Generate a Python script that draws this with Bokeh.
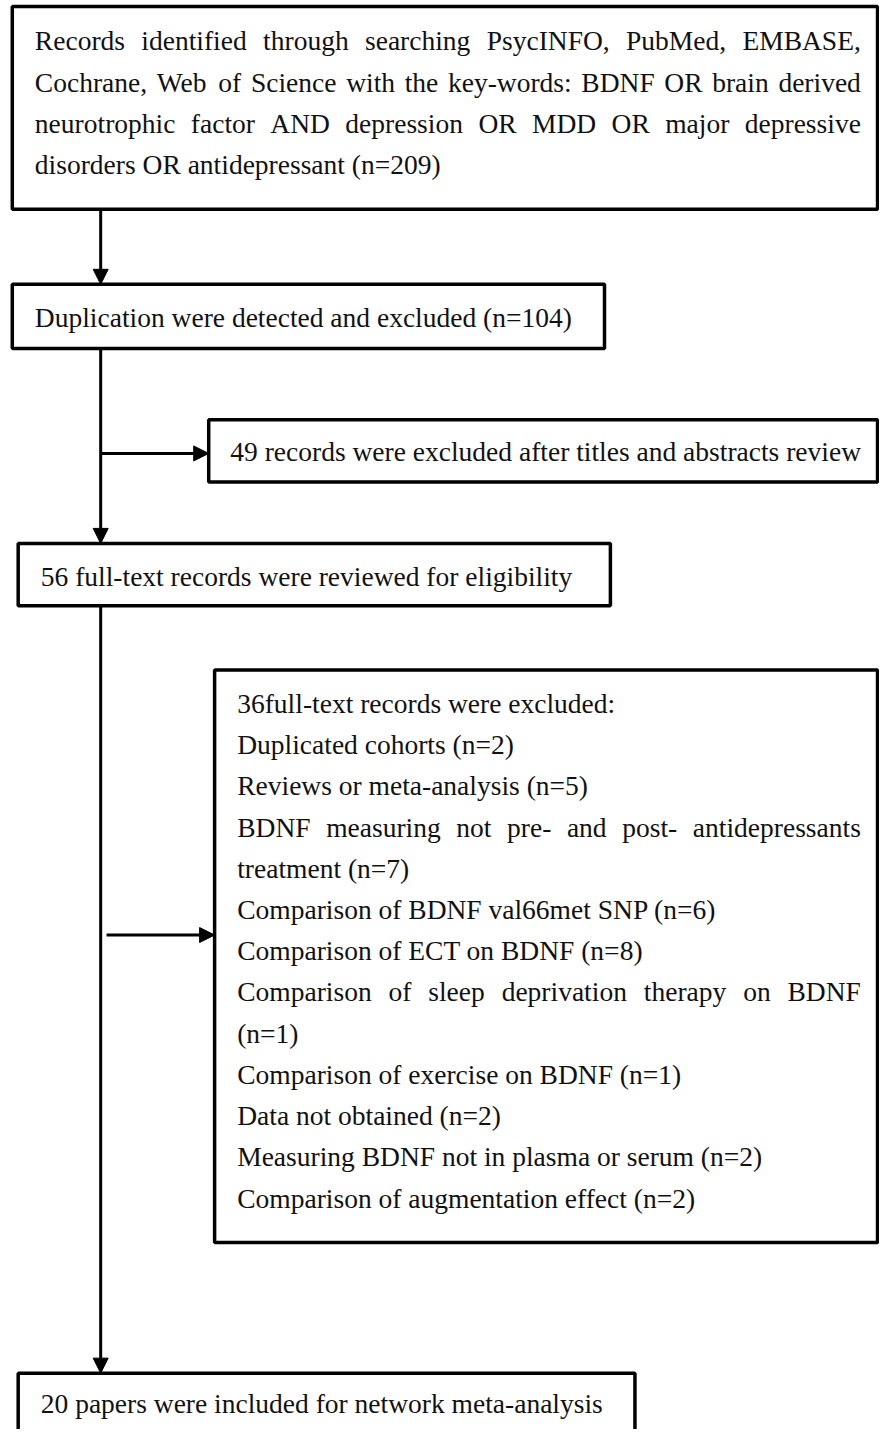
from bokeh.plotting import figure
from bokeh.models import Range1d, ColumnDataSource, Arrow, NormalHead
from bokeh.core.properties import value
from bokeh.embed import file_html
from bokeh.resources import INLINE

# ---------------- data (texts of the flow chart) ----------------
search_lines = [
    "Records identified through searching PsycINFO, PubMed, EMBASE,",
    "Cochrane, Web of Science with the key-words: BDNF OR brain derived",
    "neurotrophic factor AND depression OR MDD OR major depressive",
    "disorders OR antidepressant (n=209)",
]
search_justify = [True, True, True, False]
dup_text = "Duplication were detected and excluded (n=104)"
screen_excl_text = "49 records were excluded after titles and abstracts review"
fulltext_text = "56 full-text records were reviewed for eligibility"
fulltext_excl_lines = [
    "36full-text records were excluded:",
    "Duplicated cohorts (n=2)",
    "Reviews or meta-analysis (n=5)",
    "BDNF measuring not pre- and post- antidepressants",
    "treatment (n=7)",
    "Comparison of BDNF val66met SNP (n=6)",
    "Comparison of ECT on BDNF (n=8)",
    "Comparison of sleep deprivation therapy on BDNF",
    "(n=1)",
    "Comparison of exercise on BDNF (n=1)",
    "Data not obtained (n=2)",
    "Measuring BDNF not in plasma or serum (n=2)",
    "Comparison of augmentation effect (n=2)",
]
fulltext_excl_justify = [False, False, False, True, False, False, False, True,
                         False, False, False, False, False]
included_text = "20 papers were included for network meta-analysis"

# ---------------- layout ----------------
W_PX, H_PX = 879, 1429
X0, X1 = 0, 895
Y0, Y1 = 0, 1445
SX = W_PX / (X1 - X0)
SY = H_PX / (Y1 - Y0)
FS = 28.0                     # font size in data units
FONT = "Liberation Serif"
FONT_PX = f"{FS * SX:.2f}px"
LH = 41.67                    # line height
BASE_OFF = 9.0 / SY           # renderer places alphabetic baseline lower

# Times metrics (per 1000 em)
TM = {' ': 250, 'a': 444, 'b': 500, 'c': 444, 'd': 500, 'e': 444, 'f': 333, 'g': 500,
      'h': 500, 'i': 278, 'j': 278, 'k': 500, 'l': 278, 'm': 778, 'n': 500, 'o': 500,
      'p': 500, 'q': 500, 'r': 333, 's': 389, 't': 278, 'u': 500, 'v': 500, 'w': 722,
      'x': 500, 'y': 500, 'z': 444,
      'A': 722, 'B': 667, 'C': 667, 'D': 722, 'E': 611, 'F': 556, 'G': 722, 'H': 722,
      'I': 333, 'J': 389, 'K': 722, 'L': 611, 'M': 889, 'N': 722, 'O': 722, 'P': 556,
      'Q': 722, 'R': 667, 'S': 556, 'T': 611, 'U': 722, 'V': 722, 'W': 944, 'X': 722,
      'Y': 722, 'Z': 611, '(': 333, ')': 333, '=': 564, ',': 250, '.': 250, ':': 278,
      '-': 333}
for d in "0123456789":
    TM[d] = 500


def tw(s):
    return sum(TM.get(c, 500) for c in s) / 1000.0 * FS


xs, ys, txt, aligns = [], [], [], []


def add_line(s, left, right, y, justify):
    y = y - BASE_OFF
    if not justify:
        xs.append(left); ys.append(y); txt.append(s); aligns.append("left")
        return
    words = s.split(" ")
    total = sum(tw(w) for w in words)
    gap = (right - left - total) / (len(words) - 1)
    x = left
    for i, w in enumerate(words):
        if i == len(words) - 1:
            xs.append(right); aligns.append("right")
        else:
            xs.append(x); aligns.append("left")
        ys.append(y); txt.append(w)
        x += tw(w) + gap


for i, (s, j) in enumerate(zip(search_lines, search_justify)):
    add_line(s, 35, 876, 50 + i * LH, j)
add_line(dup_text, 35, 600, 330, False)
add_line(screen_excl_text, 234, 880, 465, False)
add_line(fulltext_text, 41, 610, 592, False)
for i, (s, j) in enumerate(zip(fulltext_excl_lines, fulltext_excl_justify)):
    add_line(s, 241, 876, 720 + i * LH, j)
add_line(included_text, 41, 640, 1428, False)

p = figure(width=W_PX, height=H_PX, x_range=Range1d(X0, X1), y_range=Range1d(Y1, Y0),
           output_backend="svg", toolbar_location=None, min_border=0,
           x_axis_type=None, y_axis_type=None)
p.grid.visible = False
p.outline_line_color = None
p.background_fill_color = "white"
p.border_fill_color = "white"

# boxes
boxes = ColumnDataSource(dict(
    left=[12, 12, 212, 18, 218, 18],
    right=[893, 615, 893, 621, 893, 646],
    top=[6, 287, 424, 549, 677, 1388],
    bottom=[211, 352, 487, 612, 1256, 1470],
))
p.quad(left="left", right="right", top="top", bottom="bottom", source=boxes,
       fill_color="white", line_color="#000000", line_width=3.5)

# arrows
arrow_segs = [
    (102, 211, 102, 287),
    (102, 352, 102, 549),
    (102, 458, 212, 458),
    (102, 612, 102, 1388),
    (108, 945, 218, 945),
]
for (xa, ya, xb, yb) in arrow_segs:
    p.add_layout(Arrow(end=NormalHead(size=15, fill_color="#000000", line_color="#000000",
                                      line_width=1),
                       x_start=xa, y_start=ya, x_end=xb, y_end=yb,
                       line_color="#000000", line_width=3))

src_l = ColumnDataSource(dict(x=[x for x, a in zip(xs, aligns) if a == "left"],
                              y=[y for y, a in zip(ys, aligns) if a == "left"],
                              text=[t for t, a in zip(txt, aligns) if a == "left"]))
src_r = ColumnDataSource(dict(x=[x for x, a in zip(xs, aligns) if a == "right"],
                              y=[y for y, a in zip(ys, aligns) if a == "right"],
                              text=[t for t, a in zip(txt, aligns) if a == "right"]))
for src, al in ((src_l, "left"), (src_r, "right")):
    p.text(x="x", y="y", text="text", source=src, text_font=value(FONT),
           text_font_size=FONT_PX, text_color="#111111", text_align=al,
           text_baseline="alphabetic")

open("out.html", "w").write(file_html(p, INLINE))
